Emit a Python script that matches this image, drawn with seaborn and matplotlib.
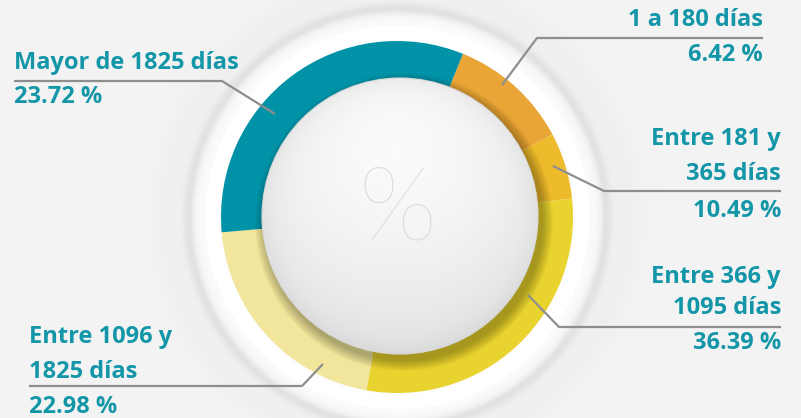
import numpy as np
import matplotlib.pyplot as plt
import seaborn as sns
from matplotlib.patches import Circle

sns.set_theme(style="white")
plt.rcParams['font.family'] = ['Open Sans', 'DejaVu Sans']

# data
categories = ['1 a 180 días', 'Entre 181 y\n365 días', 'Entre 366 y\n1095 días',
              'Entre 1096 y\n1825 días', 'Mayor de 1825 días']
pct_labels = ['6.42 %', '10.49 %', '36.39 %', '22.98 %', '23.72 %']
# arc sizes as drawn in the infographic (degrees)
arc_deg = [40, 22, 106, 75, 117]
colors = ['#E9A535', '#EEBB2C', '#E9D32F', '#F1E69B', '#0093A8']

W, H = 801, 418
cx, cy = 397, 217          # ring centre (image px)
R_out, ring_w = 176, 50
sx, sy, R_s = 400, 216, 138  # sphere

teal = '#1496A9'
line_c = '#8E8E8E'

fig = plt.figure(figsize=(W / 100, H / 100), dpi=100)
ax = fig.add_axes([0, 0, 1, 1])

# background with halo
yy, xx = np.mgrid[0:H, 0:W]
r = np.hypot(xx - cx, yy - cy)
bg = 0.953 + 0.03 * np.exp(-((r - 192) / 16) ** 2) * (r < 206) + 0.03 * (r < 192) * (r > 170)
bg = bg - 0.065 * np.exp(-((r - 209) / 6) ** 2) - 0.015 * np.exp(-((r - 230) / 14) ** 2)
bg = np.clip(bg, 0, 1)
ax.imshow(np.dstack([bg, bg, bg]), extent=(0, W, 0, H), origin='upper', zorder=0)

# donut ring
ax.pie(arc_deg, colors=colors, startangle=68, counterclock=False,
       radius=R_out, center=(cx, H - cy),
       wedgeprops=dict(width=ring_w, linewidth=0, antialiased=True))

# drop shadow of sphere onto ring
for k in range(1, 12):
    ax.add_patch(Circle((sx + 4, H - sy - 6), R_s + k, color='black',
                        alpha=0.028, lw=0, zorder=3))

# sphere with gradient
sp_y, sp_x = np.mgrid[sy - R_s:sy + R_s, sx - R_s:sx + R_s]
d = np.hypot(sp_x - 395, sp_y - 150)
rr = np.hypot(sp_x - sx, sp_y - sy) / R_s
v = 0.985 - 0.14 * (d / 270) ** 1.4 - 0.04 * np.clip(rr, 0, 1) ** 10
v = np.clip(v, 0, 1)
im = ax.imshow(np.dstack([v, v, v]), extent=(sx - R_s, sx + R_s, H - sy - R_s, H - sy + R_s),
               origin='upper', zorder=4)
clip = Circle((sx, H - sy), R_s, transform=ax.transData)
im.set_clip_path(clip)
ax.add_patch(Circle((sx, H - sy), R_s, fill=False, ec='#d9d9d9', lw=0.8, zorder=5))

ax.text(sx - 3, H - 212, '%', fontsize=74, color='#DADADA', fontweight='light',
        family=['Lato', 'DejaVu Sans'], ha='center', va='center', zorder=6)

# labels: (text x, align, name line ys, pct y, leader points)
label_specs = [
    (763, 'right', [20], 55, [(763, 38), (537, 38), (502, 85)]),
    (781, 'right', [139, 174], 211, [(781, 191), (604, 191), (553, 166)]),
    (781, 'right', [277, 308], 343, [(781, 327), (559, 327), (528, 295)]),
    (29, 'left', [337, 372], 407, [(29, 386), (302, 386), (323, 364)]),
    (14, 'left', [63], 97, [(14, 81), (222, 81), (275, 114)]),
]
for name, pct, (tx, ha, ys, py, pts) in zip(categories, pct_labels, label_specs):
    for line, y in zip(name.split('\n'), ys):
        ax.text(tx, H - y, line, ha=ha, va='center', fontsize=17,
                fontweight='bold', color=teal, zorder=7)
    ax.text(tx, H - py, pct, ha=ha, va='center', fontsize=17,
            fontweight='bold', color=teal, zorder=7)
    px = [p[0] for p in pts]
    py_ = [H - p[1] for p in pts]
    ax.plot(px, py_, color=line_c, lw=1.6, solid_capstyle='butt', zorder=6)

ax.set_xlim(0, W)
ax.set_ylim(0, H)
ax.set_aspect('auto')
ax.axis('off')

fig.savefig('out.png', dpi=100)
